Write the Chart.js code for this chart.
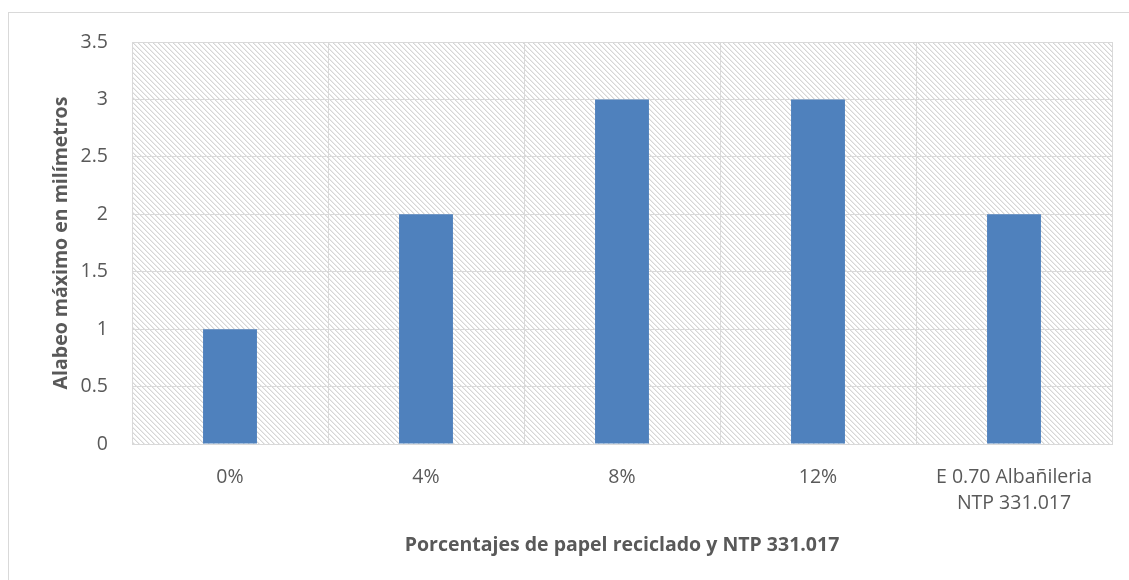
<!DOCTYPE html>
<html>
<head>
<meta charset="utf-8">
<script src="https://cdn.jsdelivr.net/npm/chart.js@4.4.1/dist/chart.umd.min.js"></script>
<style>
  html, body { margin: 0; padding: 0; background: #fff; }
  #wrap { width: 1129px; height: 580px; position: relative; }
</style>
</head>
<body>
<div id="wrap"><canvas id="chart" width="1129" height="580"></canvas></div>
<script>
// Alabeo por porcentaje de papel reciclado
const categorias = ['0%', '4%', '8%', '12%', ['E 0.70 Albañileria', 'NTP 331.017']];
const alabeo = [1, 2, 3, 3, 2];
const yTicks = [0, 0.5, 1, 1.5, 2, 2.5, 3, 3.5];

const FONT = "'Open Sans', sans-serif";
const GRIS = '#595959';
const LINEA = '#d9d9d9';

// diagonal hatch tile for the plot area
function makeHatch() {
  const s = 5;
  const c = document.createElement('canvas');
  c.width = s; c.height = s;
  const g = c.getContext('2d');
  g.fillStyle = '#fff';
  g.fillRect(0, 0, s, s);
  g.fillStyle = '#d6d6d6';
  for (let i = 0; i < s; i++) g.fillRect(i, i, 1, 1);
  g.fillStyle = '#ececec';
  for (let i = 0; i < s; i++) g.fillRect((i + 1) % s, i, 1, 1);
  return g.createPattern(c, 'repeat');
}

const fondo = {
  id: 'fondo',
  beforeDraw(chart) {
    const { ctx, chartArea: a } = chart;
    ctx.save();
    // outer frame of the chart object
    ctx.strokeStyle = LINEA;
    ctx.lineWidth = 1;
    ctx.strokeRect(8.5, 12.5, 1200, 700);
    ctx.fillStyle = makeHatch();
    ctx.fillRect(a.left, a.top, a.right - a.left, a.bottom - a.top);
    ctx.restore();
  }
};

new Chart(document.getElementById('chart'), {
  type: 'bar',
  data: {
    labels: categorias,
    datasets: [{
      data: alabeo,
      backgroundColor: '#4f81bd',
      borderWidth: 0,
      barPercentage: 0.275,
      categoryPercentage: 1
    }]
  },
  options: {
    responsive: false,
    animation: false,
    layout: { padding: { top: 42, right: 17, left: 0, bottom: 0 } },
    plugins: { legend: { display: false }, tooltip: { enabled: false } },
    scales: {
      x: {
        grid: { color: LINEA, drawTicks: false, offset: true },
        border: { color: LINEA },
        ticks: { color: GRIS, font: { family: FONT, size: 19.5, lineHeight: 1.35 }, padding: 20, maxRotation: 0 },
        title: {
          display: true,
          text: 'Porcentajes de papel reciclado y NTP 331.017',
          color: GRIS,
          font: { family: FONT, size: 19.5, weight: 'bold' },
          padding: { bottom: 23 }
        },
        afterFit(scale) { scale.height = 136; }
      },
      y: {
        min: 0,
        max: 3.5,
        afterBuildTicks(scale) { scale.ticks = yTicks.map(v => ({ value: v })); },
        grid: { color: LINEA, drawTicks: false },
        border: { color: LINEA },
        ticks: {
          color: GRIS,
          font: { family: FONT, size: 19.5 },
          padding: 24,
          callback: v => String(v)
        },
        title: {
          display: true,
          text: 'Alabeo máximo en milímetros',
          color: GRIS,
          font: { family: FONT, size: 19.5, weight: 'bold' },
          padding: { top: 50 }
        },
        afterFit(scale) { scale.width = 132; }
      }
    }
  },
  plugins: [fondo]
});
</script>
</body>
</html>
